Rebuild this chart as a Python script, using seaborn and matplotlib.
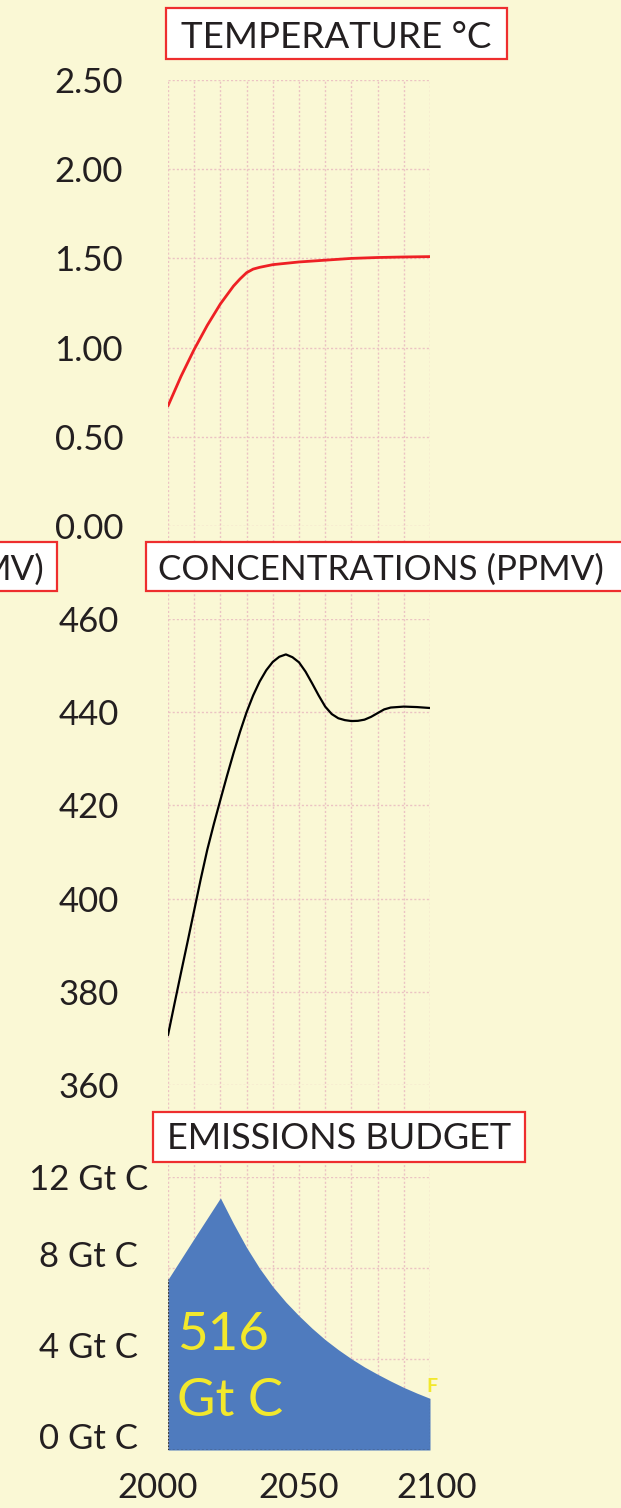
import numpy as np
import pandas as pd
import matplotlib
matplotlib.use("Agg")
import matplotlib.pyplot as plt
import matplotlib.transforms as mtransforms
import seaborn as sns
from matplotlib.patches import Rectangle

# values
temp_years = [2000, 2005, 2010, 2015, 2020, 2025, 2027.5, 2030, 2032.5, 2035,
              2040, 2050, 2060, 2070, 2080, 2090, 2100]
temp_values = [0.673, 0.84, 0.99, 1.125, 1.245, 1.345, 1.385, 1.42, 1.44, 1.45,
               1.465, 1.48, 1.49, 1.50, 1.505, 1.508, 1.51]

conc_years = [2000, 2002.5, 2005, 2007.5, 2010, 2012.5, 2015, 2017.5, 2020, 2022.5,
              2025, 2027.5, 2030, 2032.5, 2035, 2037.5, 2040, 2042.5, 2045, 2047.5,
              2050, 2052.5, 2055, 2057.5, 2060, 2062.5, 2065, 2067.5, 2070, 2072.5,
              2075, 2077.5, 2080, 2082.5, 2085, 2090, 2095, 2100]
conc_values = [370.7, 377.5, 384.2, 390.8, 397.5, 404.2, 410.5, 416.0, 421.2, 426.3,
               431.2, 435.8, 440.0, 443.6, 446.6, 449.0, 450.8, 451.9, 452.4, 451.8,
               450.7, 448.7, 446.2, 443.6, 441.2, 439.6, 438.7, 438.3, 438.1, 438.15,
               438.4, 439.0, 439.8, 440.6, 441.0, 441.2, 441.1, 440.9]

emis_years = [2000, 2005, 2010, 2015, 2020, 2025, 2030, 2035, 2040, 2045, 2050,
              2055, 2060, 2065, 2070, 2075, 2080, 2085, 2090, 2095, 2100]
emis_values = [7.5, 8.4, 9.3, 10.19, 11.08, 9.95, 8.9, 7.98, 7.18, 6.5, 5.9,
               5.35, 4.85, 4.41, 4.01, 3.65, 3.33, 3.03, 2.75, 2.5, 2.27]

temp_ticks = [0.0, 0.5, 1.0, 1.5, 2.0, 2.5]
conc_ticks = [360, 380, 400, 420, 440, 460]
emis_ticks = [0, 4, 8, 12]
year_ticks = [2000, 2050, 2100]

budget_label = ["516", "Gt C"]
titles = ["TEMPERATURE °C", "CONCENTRATIONS (PPMV)", "EMISSIONS BUDGET", "MV)"]

BG = "#FAF8D5"
GRID = "#EBC3C3"
INK = "#231F20"
RED = "#EE2024"
BLUE = "#4F7BBE"
YELLOW = "#F2E82C"

W, H = 621, 1508

sns.set_theme(style="white")
plt.rcParams["font.family"] = ["Lato", "DejaVu Sans"]
plt.rcParams["text.color"] = INK
plt.rcParams["xtick.color"] = INK
plt.rcParams["ytick.color"] = INK

fig = plt.figure(figsize=(W / 100, H / 100), dpi=100)
fig.patch.set_facecolor(BG)


def rect_px(x0, x1, y0, y1):
    # figure-fraction rect from pixel edges (y measured from top)
    return [x0 / W, 1 - y1 / H, (x1 - x0) / W, (y1 - y0) / H]


def nudge(label, dx_px, dy_px):
    off = mtransforms.ScaledTranslation(dx_px / 100, dy_px / 100, fig.dpi_scale_trans)
    label.set_transform(label.get_transform() + off)


X0, X1 = 168, 430
grid_kw = dict(color=GRID, linestyle=(0, (1.5, 1.5)), linewidth=1.0)

# background axes carrying the vertical dotted grid through all panels
ax_bg = fig.add_axes(rect_px(X0, X1, 80, 1450))
ax_bg.set_xlim(2000, 2100)
ax_bg.set_ylim(0, 1)
ax_bg.set_xticks(np.arange(2000, 2101, 10))
ax_bg.set_yticks([])
ax_bg.grid(True, axis="x", **grid_kw)
ax_bg.tick_params(labelbottom=False, length=0)
ax_bg.patch.set_visible(False)
sns.despine(ax=ax_bg, left=True, bottom=True)

ax_t = fig.add_axes(rect_px(X0, X1, 80, 526))
ax_c = fig.add_axes(rect_px(X0, X1, 619, 1085))
ax_e = fig.add_axes(rect_px(X0, X1, 1177, 1450))

temp_df = pd.DataFrame({"year": temp_years, "temp": temp_values})
conc_df = pd.DataFrame({"year": conc_years, "ppmv": conc_values})
emis_df = pd.DataFrame({"year": emis_years, "gtc": emis_values})

sns.lineplot(data=temp_df, x="year", y="temp", ax=ax_t, color=RED, linewidth=2.0)
sns.lineplot(data=conc_df, x="year", y="ppmv", ax=ax_c, color="black", linewidth=1.6)
ax_e.fill_between(emis_df["year"], 0, emis_df["gtc"], color=BLUE, linewidth=0, zorder=2)
ax_e.axhline(0, color="#333333", linestyle=(0, (1.5, 1.5)), linewidth=1.0, zorder=3)
ax_e.vlines([emis_years[0], emis_years[-1]], 0, [emis_values[0], emis_values[-1]],
            color="#333333", linestyle=(0, (1.5, 1.5)), linewidth=0.8, zorder=3)

panels = [
    (ax_t, temp_ticks, (0, 2.5), [f"{v:.2f}" for v in temp_ticks]),
    (ax_c, conc_ticks, (360, 460), [f"{v}" for v in conc_ticks]),
    (ax_e, emis_ticks, (0, 12), [f"{v} Gt C" for v in emis_ticks]),
]
for ax, ticks, lim, labels in panels:
    ax.set_xlim(2000, 2100)
    ax.set_ylim(*lim)
    ax.set_yticks(ticks)
    ax.set_yticklabels(labels)
    ax.grid(True, axis="y", **grid_kw)
    ax.set_axisbelow(True)
    ax.set_xlabel("")
    ax.set_ylabel("")
    ax.patch.set_visible(False)
    ax.tick_params(axis="y", length=0, pad=57, labelsize=25)
    for lab in ax.get_yticklabels():
        lab.set_horizontalalignment("center")
    sns.despine(ax=ax, left=True, bottom=True)

ax_t.set_xticks([])
ax_c.set_xticks([])
ax_e.set_xticks(year_ticks)
ax_e.set_xticklabels([str(y) for y in year_ticks])
ax_e.tick_params(axis="x", length=0, pad=16, labelsize=25)

# the reference sets some labels a little off their gridlines
xlabs = ax_e.get_xticklabels()
nudge(xlabs[0], -10, 0)
nudge(xlabs[2], 7, 0)
ylabs = ax_e.get_yticklabels()
for lab in ylabs[:3]:
    nudge(lab, 0, 14)

# big yellow budget label inside the area
ax_e.text(2003.6, 4.4, budget_label[0], color=YELLOW, fontsize=38, ha="left", va="baseline", zorder=4)
ax_e.text(2003.3, 1.5, budget_label[1], color=YELLOW, fontsize=38, ha="left", va="baseline", zorder=4)
ax_e.text(2098.8, 2.55, "F", color=YELLOW, fontsize=14, fontweight="bold", ha="left", va="baseline", zorder=4)


def title_box(x0, x1, y0, y1, text, tx, ty, ha, size):
    fig.add_artist(Rectangle((x0 / W, 1 - y1 / H), (x1 - x0) / W, (y1 - y0) / H,
                             transform=fig.transFigure, facecolor="white",
                             edgecolor="#EE2E2E", linewidth=1.6, zorder=5))
    fig.text(tx / W, 1 - ty / H, text, fontsize=size, ha=ha, va="baseline", color=INK, zorder=6)


title_box(166, 507, 8, 59, titles[0], 336.5, 48.3, "center", 26.5)
title_box(146, 660, 542, 591, titles[1], 157.6, 580, "left", 25.2)
title_box(-500, 57, 542, 591, titles[3], 44.7, 580, "right", 25.2)
title_box(152.5, 525, 1112, 1162, titles[2], 339, 1149, "center", 26)

fig.savefig("out.png", dpi=100, facecolor=BG)
